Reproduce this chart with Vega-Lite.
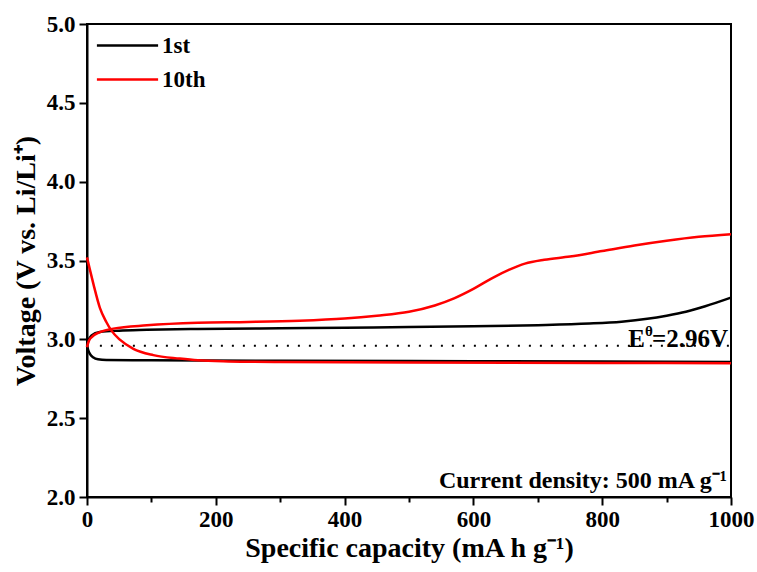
{
  "$schema": "https://vega.github.io/schema/vega-lite/v6.json",
  "width": 644,
  "height": 473,
  "autosize": {"type": "none"},
  "padding": {"left": 87, "top": 24, "right": 26, "bottom": 75},
  "background": "white",
  "config": {
    "view": {"stroke": "black", "strokeWidth": 2},
    "font": "Liberation Serif"
  },
  "datasets": {
    "curves": [
      {"cycle": "1st", "seg": "1d", "i": 0, "x": 0, "y": 2.96},
      {"cycle": "1st", "seg": "1d", "i": 1, "x": 2, "y": 2.93},
      {"cycle": "1st", "seg": "1d", "i": 2, "x": 5, "y": 2.905},
      {"cycle": "1st", "seg": "1d", "i": 3, "x": 10, "y": 2.885},
      {"cycle": "1st", "seg": "1d", "i": 4, "x": 17, "y": 2.874},
      {"cycle": "1st", "seg": "1d", "i": 5, "x": 30, "y": 2.869},
      {"cycle": "1st", "seg": "1d", "i": 6, "x": 100, "y": 2.867},
      {"cycle": "1st", "seg": "1d", "i": 7, "x": 300, "y": 2.864},
      {"cycle": "1st", "seg": "1d", "i": 8, "x": 600, "y": 2.861},
      {"cycle": "1st", "seg": "1d", "i": 9, "x": 1000, "y": 2.857},
      {"cycle": "1st", "seg": "1c", "i": 0, "x": 0, "y": 2.96},
      {"cycle": "1st", "seg": "1c", "i": 1, "x": 2, "y": 2.99},
      {"cycle": "1st", "seg": "1c", "i": 2, "x": 7, "y": 3.025},
      {"cycle": "1st", "seg": "1c", "i": 3, "x": 20, "y": 3.046},
      {"cycle": "1st", "seg": "1c", "i": 4, "x": 50, "y": 3.055},
      {"cycle": "1st", "seg": "1c", "i": 5, "x": 93, "y": 3.06},
      {"cycle": "1st", "seg": "1c", "i": 6, "x": 172, "y": 3.066},
      {"cycle": "1st", "seg": "1c", "i": 7, "x": 300, "y": 3.07},
      {"cycle": "1st", "seg": "1c", "i": 8, "x": 400, "y": 3.074},
      {"cycle": "1st", "seg": "1c", "i": 9, "x": 500, "y": 3.078},
      {"cycle": "1st", "seg": "1c", "i": 10, "x": 600, "y": 3.083},
      {"cycle": "1st", "seg": "1c", "i": 11, "x": 700, "y": 3.09},
      {"cycle": "1st", "seg": "1c", "i": 12, "x": 780, "y": 3.1},
      {"cycle": "1st", "seg": "1c", "i": 13, "x": 830, "y": 3.112},
      {"cycle": "1st", "seg": "1c", "i": 14, "x": 870, "y": 3.13},
      {"cycle": "1st", "seg": "1c", "i": 15, "x": 900, "y": 3.15},
      {"cycle": "1st", "seg": "1c", "i": 16, "x": 930, "y": 3.175},
      {"cycle": "1st", "seg": "1c", "i": 17, "x": 960, "y": 3.21},
      {"cycle": "1st", "seg": "1c", "i": 18, "x": 1000, "y": 3.265},
      {"cycle": "10th", "seg": "10d", "i": 0, "x": 0, "y": 3.52},
      {"cycle": "10th", "seg": "10d", "i": 1, "x": 4, "y": 3.45},
      {"cycle": "10th", "seg": "10d", "i": 2, "x": 10, "y": 3.35},
      {"cycle": "10th", "seg": "10d", "i": 3, "x": 20, "y": 3.2},
      {"cycle": "10th", "seg": "10d", "i": 4, "x": 30, "y": 3.11},
      {"cycle": "10th", "seg": "10d", "i": 5, "x": 38, "y": 3.055},
      {"cycle": "10th", "seg": "10d", "i": 6, "x": 51, "y": 2.998},
      {"cycle": "10th", "seg": "10d", "i": 7, "x": 72, "y": 2.94},
      {"cycle": "10th", "seg": "10d", "i": 8, "x": 103, "y": 2.9},
      {"cycle": "10th", "seg": "10d", "i": 9, "x": 144, "y": 2.878},
      {"cycle": "10th", "seg": "10d", "i": 10, "x": 172, "y": 2.867},
      {"cycle": "10th", "seg": "10d", "i": 11, "x": 220, "y": 2.86},
      {"cycle": "10th", "seg": "10d", "i": 12, "x": 300, "y": 2.856},
      {"cycle": "10th", "seg": "10d", "i": 13, "x": 500, "y": 2.853},
      {"cycle": "10th", "seg": "10d", "i": 14, "x": 800, "y": 2.85},
      {"cycle": "10th", "seg": "10d", "i": 15, "x": 1000, "y": 2.849},
      {"cycle": "10th", "seg": "10c", "i": 0, "x": 0, "y": 2.95},
      {"cycle": "10th", "seg": "10c", "i": 1, "x": 2, "y": 2.98},
      {"cycle": "10th", "seg": "10c", "i": 2, "x": 5, "y": 3.006},
      {"cycle": "10th", "seg": "10c", "i": 3, "x": 20, "y": 3.046},
      {"cycle": "10th", "seg": "10c", "i": 4, "x": 41, "y": 3.068},
      {"cycle": "10th", "seg": "10c", "i": 5, "x": 93, "y": 3.089},
      {"cycle": "10th", "seg": "10c", "i": 6, "x": 172, "y": 3.105},
      {"cycle": "10th", "seg": "10c", "i": 7, "x": 250, "y": 3.11},
      {"cycle": "10th", "seg": "10c", "i": 8, "x": 330, "y": 3.118},
      {"cycle": "10th", "seg": "10c", "i": 9, "x": 400, "y": 3.132},
      {"cycle": "10th", "seg": "10c", "i": 10, "x": 450, "y": 3.15},
      {"cycle": "10th", "seg": "10c", "i": 11, "x": 500, "y": 3.175},
      {"cycle": "10th", "seg": "10c", "i": 12, "x": 540, "y": 3.215},
      {"cycle": "10th", "seg": "10c", "i": 13, "x": 570, "y": 3.26},
      {"cycle": "10th", "seg": "10c", "i": 14, "x": 600, "y": 3.32},
      {"cycle": "10th", "seg": "10c", "i": 15, "x": 630, "y": 3.39},
      {"cycle": "10th", "seg": "10c", "i": 16, "x": 655, "y": 3.44},
      {"cycle": "10th", "seg": "10c", "i": 17, "x": 680, "y": 3.48},
      {"cycle": "10th", "seg": "10c", "i": 18, "x": 710, "y": 3.505},
      {"cycle": "10th", "seg": "10c", "i": 19, "x": 750, "y": 3.525},
      {"cycle": "10th", "seg": "10c", "i": 20, "x": 800, "y": 3.56},
      {"cycle": "10th", "seg": "10c", "i": 21, "x": 850, "y": 3.595},
      {"cycle": "10th", "seg": "10c", "i": 22, "x": 900, "y": 3.625},
      {"cycle": "10th", "seg": "10c", "i": 23, "x": 950, "y": 3.65},
      {"cycle": "10th", "seg": "10c", "i": 24, "x": 1000, "y": 3.667}
    ]
  },
  "layer": [
    {
      "data": {"values": [{"x": 20, "x2": 1000, "y": 2.96}]},
      "mark": {"type": "rule", "color": "black", "strokeWidth": 2, "strokeDash": [2, 9]},
      "encoding": {
        "x": {"field": "x", "type": "quantitative"},
        "x2": {"field": "x2"},
        "y": {"field": "y", "type": "quantitative"}
      }
    },
    {
      "data": {"name": "curves"},
      "mark": {"type": "line", "strokeWidth": 2.5, "interpolate": "monotone"},
      "encoding": {
        "x": {
          "field": "x", "type": "quantitative",
          "scale": {"domain": [0, 1000], "nice": false},
          "axis": {
            "values": [0, 100, 200, 300, 400, 500, 600, 700, 800, 900, 1000],
            "labelExpr": "datum.value % 200 === 0 ? datum.label : ''",
            "format": "d",
            "title": "Specific capacity (mA h g⁻¹)",
            "titleFont": "Liberation Serif", "titleFontSize": 28, "titleFontWeight": "bold", "titleColor": "black",
            "titlePadding": 3,
            "labelFont": "Liberation Serif", "labelFontSize": 23, "labelFontWeight": "bold", "labelColor": "black",
            "labelPadding": 3, "labelFlush": false,
            "domainColor": "black", "domainWidth": 2,
            "tickColor": "black", "tickWidth": 2,
            "tickSize": {"condition": {"test": "datum.value % 200 === 0", "value": 8}, "value": 5},
            "grid": false
          }
        },
        "y": {
          "field": "y", "type": "quantitative",
          "scale": {"domain": [2.0, 5.0], "nice": false, "zero": false},
          "axis": {
            "values": [2.0, 2.25, 2.5, 2.75, 3.0, 3.25, 3.5, 3.75, 4.0, 4.25, 4.5, 4.75, 5.0],
            "format": ".1f",
            "labelExpr": "abs(datum.value * 2 - round(datum.value * 2)) < 0.01 ? datum.label : ''",
            "title": "Voltage (V vs. Li/Li⁺)",
            "titleFont": "Liberation Serif", "titleFontSize": 28, "titleFontWeight": "bold", "titleColor": "black",
            "titlePadding": 6,
            "labelFont": "Liberation Serif", "labelFontSize": 23, "labelFontWeight": "bold", "labelColor": "black",
            "labelPadding": 4, "labelFlush": false,
            "domainColor": "black", "domainWidth": 2,
            "tickColor": "black", "tickWidth": 2,
            "tickSize": {"condition": {"test": "abs(datum.value * 2 - round(datum.value * 2)) < 0.01", "value": 8}, "value": 5},
            "grid": false
          }
        },
        "color": {
          "field": "cycle", "type": "nominal",
          "scale": {"domain": ["1st", "10th"], "range": ["black", "#ff0000"]},
          "legend": {
            "title": null,
            "orient": "none", "legendX": 22, "legendY": 3,
            "symbolType": "M-1.8,0H1.8", "symbolSize": 1156, "symbolStrokeWidth": 2.5,
            "labelFont": "Liberation Serif", "labelFontSize": 23, "labelFontWeight": "bold", "labelColor": "black",
            "rowPadding": 3, "labelOffset": 16
          }
        },
        "detail": {"field": "seg"},
        "order": {"field": "i", "type": "quantitative"}
      }
    },
    {
      "data": {"values": [{"x": 1000, "y": 2.95, "t": "=2.96V"}]},
      "mark": {"type": "text", "align": "right", "baseline": "alphabetic", "font": "Liberation Serif", "fontSize": 25, "fontWeight": "bold", "color": "black", "dx": -3},
      "encoding": {
        "x": {"field": "x", "type": "quantitative"},
        "y": {"field": "y", "type": "quantitative"},
        "text": {"field": "t"}
      }
    },
    {
      "data": {"values": [{"x": 1000, "y": 2.95, "t": "E"}]},
      "mark": {"type": "text", "align": "right", "baseline": "alphabetic", "font": "Liberation Serif", "fontSize": 25, "fontWeight": "bold", "color": "black", "dx": -86},
      "encoding": {
        "x": {"field": "x", "type": "quantitative"},
        "y": {"field": "y", "type": "quantitative"},
        "text": {"field": "t"}
      }
    },
    {
      "data": {"values": [{"x": 1000, "y": 2.95, "t": "θ"}]},
      "mark": {"type": "text", "align": "left", "baseline": "alphabetic", "font": "Liberation Serif", "fontSize": 15, "fontWeight": "bold", "color": "black", "dx": -86, "dy": -11},
      "encoding": {
        "x": {"field": "x", "type": "quantitative"},
        "y": {"field": "y", "type": "quantitative"},
        "text": {"field": "t"}
      }
    },
    {
      "data": {"values": [{"x": 1000, "y": 2.0, "t": "Current density: 500 mA g⁻¹"}]},
      "mark": {"type": "text", "align": "right", "baseline": "alphabetic", "font": "Liberation Serif", "fontSize": 24, "fontWeight": "bold", "color": "black", "dx": -4, "dy": -9},
      "encoding": {
        "x": {"field": "x", "type": "quantitative"},
        "y": {"field": "y", "type": "quantitative"},
        "text": {"field": "t"}
      }
    }
  ]
}
